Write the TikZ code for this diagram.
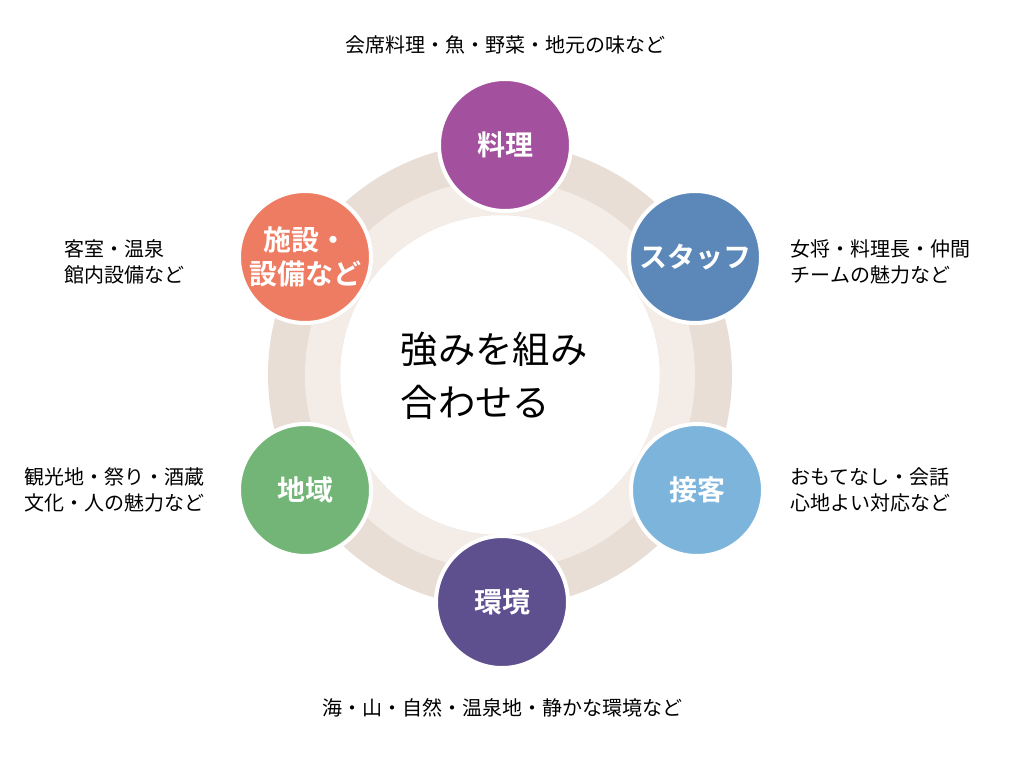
\documentclass[tikz,border=0pt]{standalone}
\usepackage{fontspec}
\newfontfamily\cjk{Noto Sans CJK JP}
\newfontfamily\cjkb{Noto Sans CJK JP Bold}
\definecolor{ringA}{HTML}{E9DED6}
\definecolor{ringB}{HTML}{F3ECE7}
\definecolor{cA}{HTML}{A3509F}
\definecolor{cB}{HTML}{5B88B8}
\definecolor{cC}{HTML}{7DB4DC}
\definecolor{cD}{HTML}{5E4F8E}
\definecolor{cE}{HTML}{73B577}
\definecolor{cF}{HTML}{EE7C62}
\begin{document}
\begin{tikzpicture}[x=0.75pt,y=-0.75pt,
  bub/.style={circle,minimum size=99pt,fill=#1,draw=white,line width=3pt,text=white,font=\cjkb\fontsize{21}{25}\selectfont,align=center,inner sep=0},
  lab/.style={font=\cjk\fontsize{15}{20}\selectfont,align=left,text=black}]
\useasboundingbox (0,0) rectangle (1024,759);
\fill[white] (0,0) rectangle (1024,759);
\fill[ringA,even odd rule] (500,375) circle (232) (500,375) circle (160);
\fill[ringB,even odd rule] (500,375) circle (195) (500,375) circle (160);
\node[circle,fill=white,minimum size=218pt,inner sep=0] (c) at (500,375) {};
\node[font=\cjk\fontsize{28}{40}\selectfont,align=left,anchor=west] (ct) at (396,376) {強みを組み\\合わせる};
\node[bub=cA] (a) at (505,145) {料理};
\node[bub=cB] (b) at (695,257) {スタッフ};
\node[bub=cC] (d) at (697,490) {接客};
\node[bub=cD] (e) at (502,602) {環境};
\node[bub=cE] (f) at (305,490) {地域};
\node[bub=cF] (g) at (305,257) {施設・\\設備など};
\node[lab] (la) at (505,45) {会席料理・魚・野菜・地元の味など};
\node[lab,anchor=west] (lb) at (786,262) {女将・料理長・仲間\\チームの魅力など};
\node[lab,anchor=west] (ld) at (786,490) {おもてなし・会話\\心地よい対応など};
\node[lab] (le) at (502,708) {海・山・自然・温泉地・静かな環境など};
\node[lab,anchor=west] (lf) at (20,490) {観光地・祭り・酒蔵\\文化・人の魅力など};
\node[lab,anchor=west] (lg) at (60,262) {客室・温泉\\館内設備など};
\end{tikzpicture}
\end{document}
